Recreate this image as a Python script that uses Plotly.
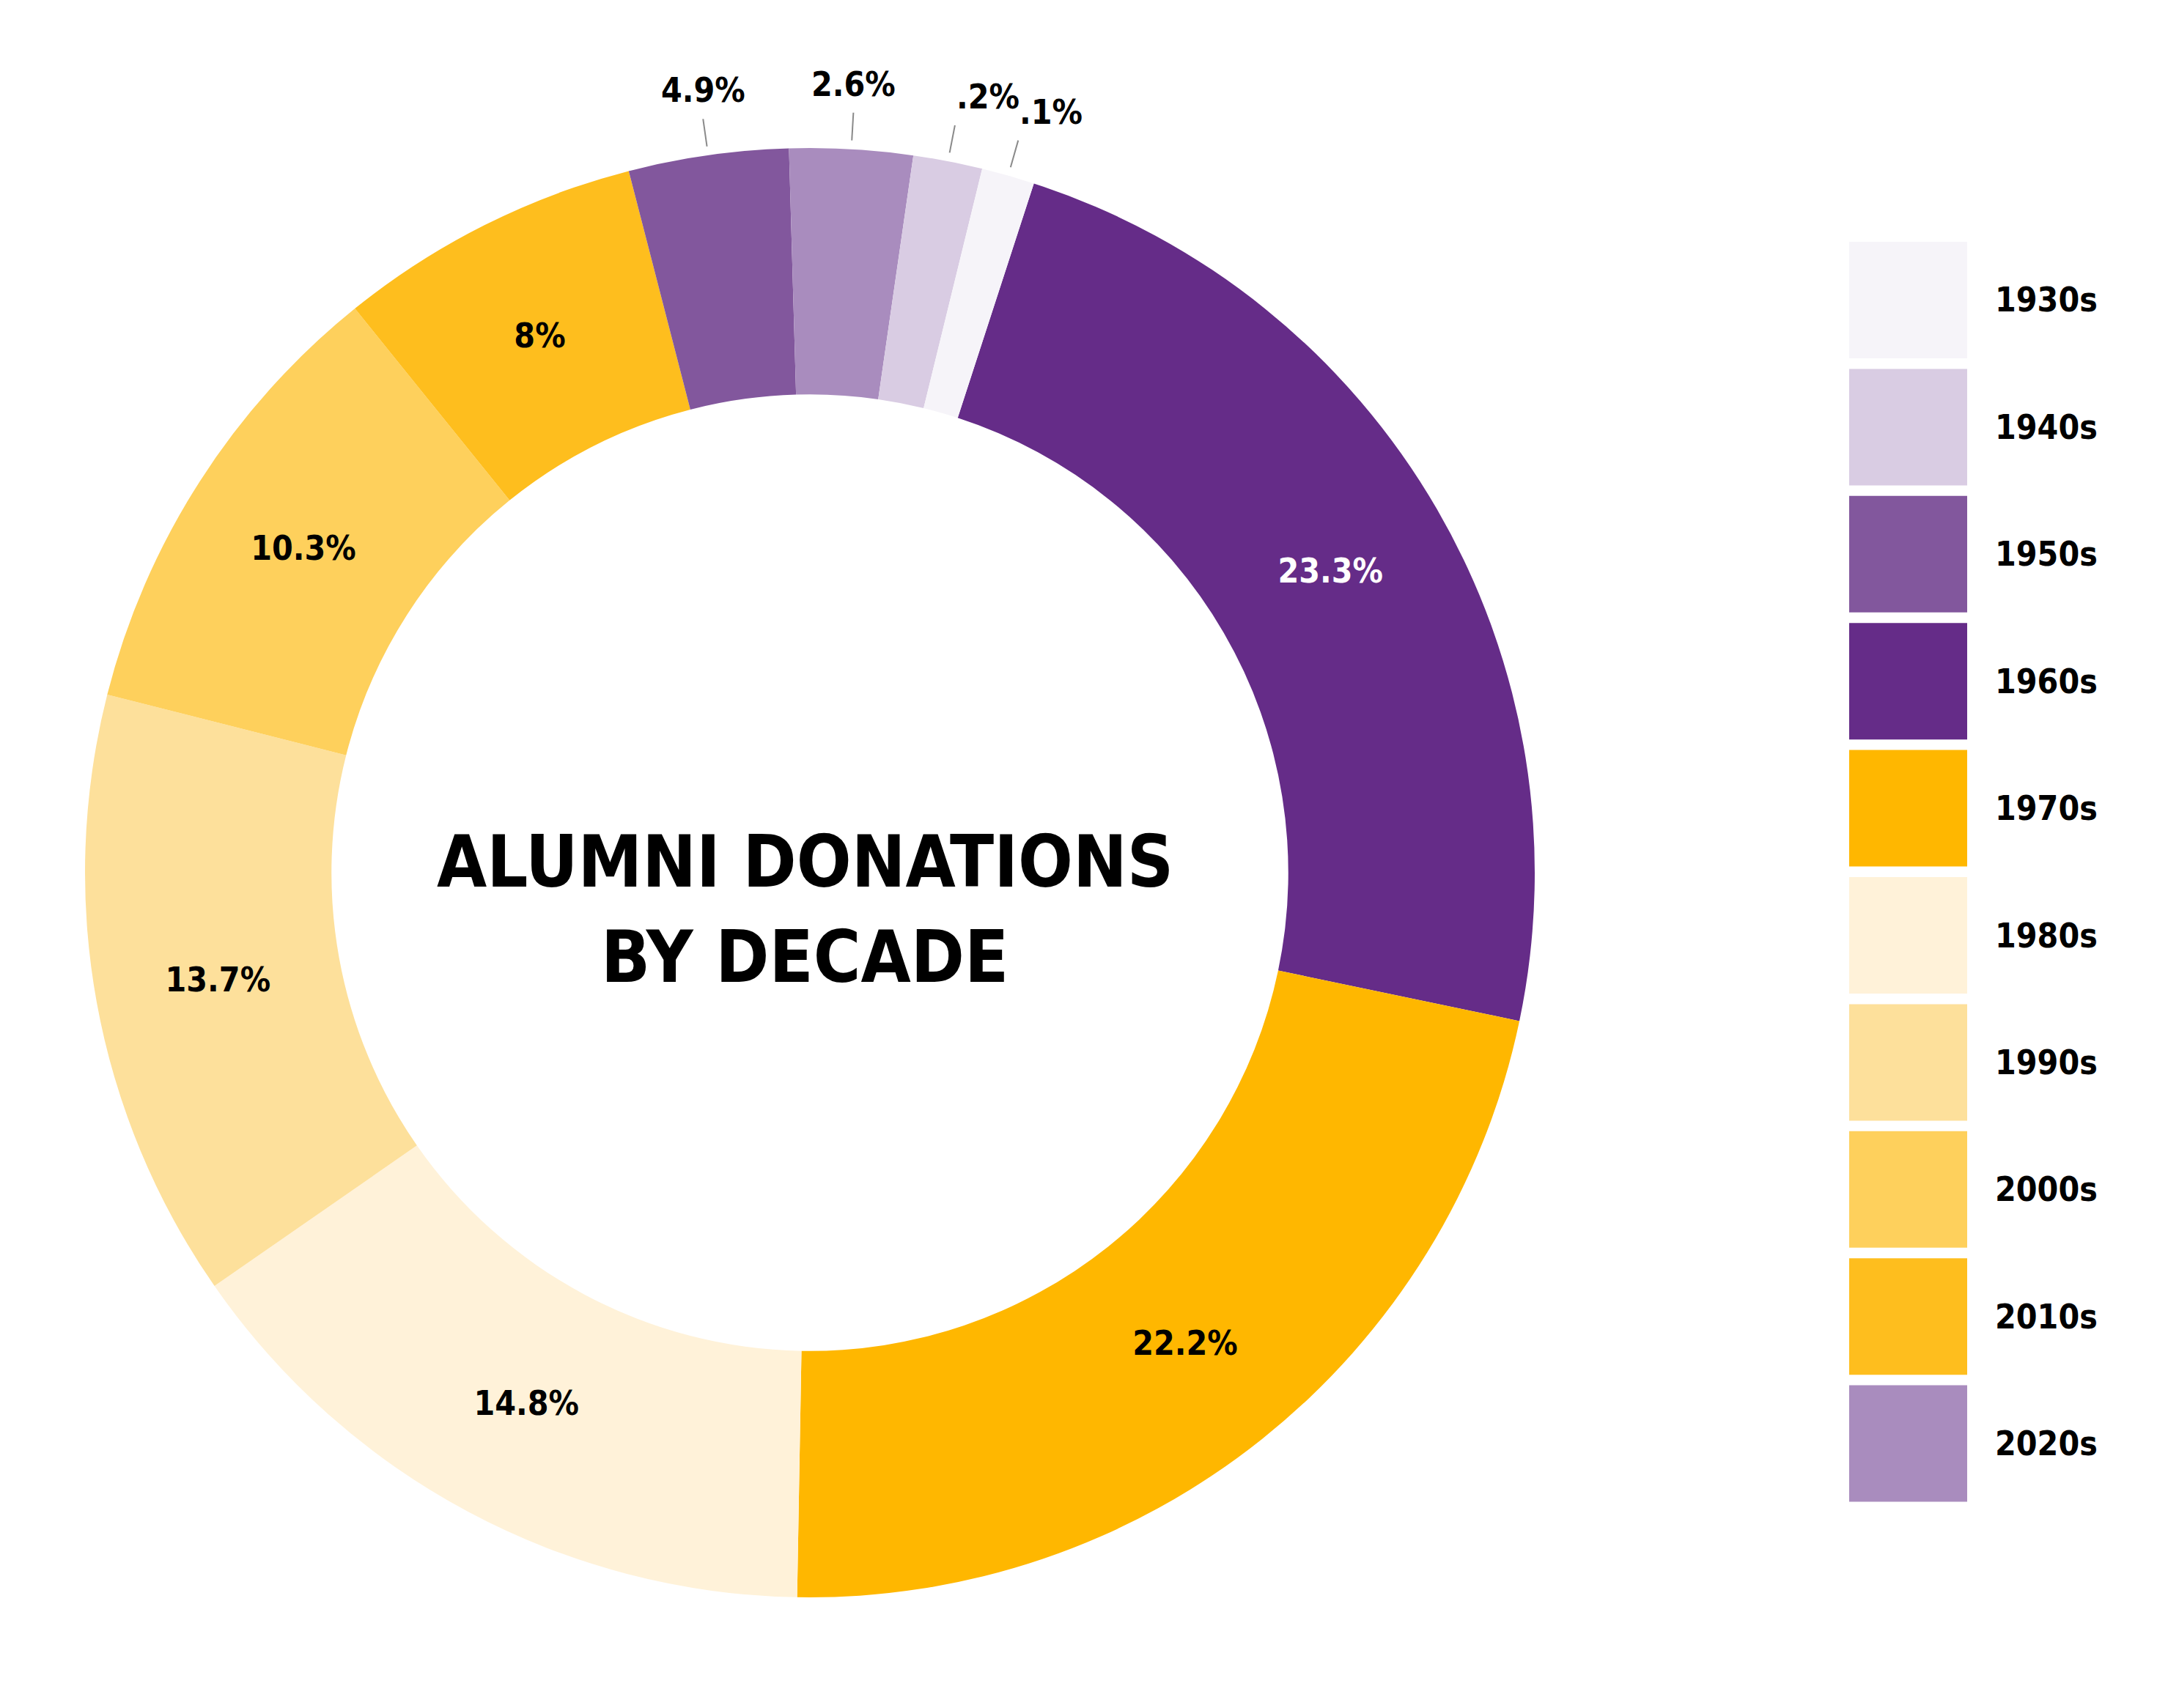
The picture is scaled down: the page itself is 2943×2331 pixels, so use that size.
import math
import plotly.graph_objects as go

# slices in clockwise order, starting from the 1960s wedge
decades = ['1960s', '1970s', '1980s', '1990s', '2000s', '2010s', '1950s', '2020s', '1940s', '1930s']
shares = [23.28, 22.0, 15.06, 13.61, 10.25, 6.78, 3.56, 2.74, 1.54, 1.18]
pct_labels = ['23.3%', '22.2%', '14.8%', '13.7%', '10.3%', '8%', '4.9%', '2.6%', '.2%', '.1%']

legend_decades = ['1930s', '1940s', '1950s', '1960s', '1970s',
                  '1980s', '1990s', '2000s', '2010s', '2020s']

colors = {
    '1930s': '#F6F4F9',
    '1940s': '#D9CCE3',
    '1950s': '#82579D',
    '1960s': '#652C88',
    '1970s': '#FFB700',
    '1980s': '#FFF2D9',
    '1990s': '#FDE09B',
    '2000s': '#FED05C',
    '2010s': '#FEBE1E',
    '2020s': '#A98CBE',
}

W, H = 2943, 2331
CX, CY, R = 1097, 1183, 989     # donut centre / radius in px
ROTATION = 18.0
FONT = 'DejaVu Sans Condensed, DejaVu Sans, sans-serif'

small = [s < 5 for s in shares]  # these get labels outside the ring

def px_to_paper(x, y):
    return x / W, 1 - y / H

fig = go.Figure()
fig.add_trace(go.Pie(
    labels=decades,
    values=shares,
    text=pct_labels,
    textinfo='text',
    textposition=['none' if s else 'inside' for s in small],
    insidetextorientation='horizontal',
    insidetextfont=dict(family=FONT, size=46, weight='bold',
                        color=['white' if d == '1960s' else 'black' for d in decades]),
    marker=dict(colors=[colors[d] for d in decades], line=dict(width=0)),
    hole=0.66,
    sort=False,
    direction='clockwise',
    rotation=ROTATION,
    showlegend=False,
    hoverinfo='label+text',
    domain=dict(x=[(CX - R) / W, (CX + R) / W], y=[1 - (CY + R) / H, 1 - (CY - R) / H]),
))

shapes = []
annotations = []

# outside labels with leader lines for the thin slices
start = ROTATION
total = sum(shares)
for share, lab, is_small in zip(shares, pct_labels, small):
    mid = start + share / total * 360 / 2
    start += share / total * 360
    if not is_small:
        continue
    a = math.radians(mid)
    x0, y0 = CX + 1001 * math.sin(a), CY - 1001 * math.cos(a)
    x1, y1 = CX + 1039 * math.sin(a), CY - 1039 * math.cos(a)
    p0 = px_to_paper(x0, y0)
    p1 = px_to_paper(x1, y1)
    shapes.append(dict(type='line', xref='paper', yref='paper',
                       x0=p0[0], y0=p0[1], x1=p1[0], y1=p1[1],
                       line=dict(color='#8a8a8a', width=2)))
    anchor = 'left' if math.sin(a) > 0.15 else 'center'
    annotations.append(dict(x=p1[0], y=p1[1], xref='paper', yref='paper',
                            text=lab, showarrow=False, xanchor=anchor, yanchor='bottom',
                            yshift=10,
                            font=dict(family=FONT, size=46, weight='bold', color='black')))

# centre title
for line, ty in [('ALUMNI DONATIONS', 1168), ('BY DECADE', 1298)]:
    tx, typ = px_to_paper(CX - 7, ty)
    annotations.append(dict(x=tx, y=typ, xref='paper', yref='paper', text=line,
                            showarrow=False, xanchor='center', yanchor='middle',
                            font=dict(family=FONT, size=98, weight='bold', color='black')))

# legend drawn as swatches + labels
SW_X0, SW_X1 = 2515, 2676
SW_TOP, SW_H, SW_STEP = 322, 159, 173.4
for i, d in enumerate(legend_decades):
    top = SW_TOP + i * SW_STEP
    bx0, by0 = px_to_paper(SW_X0, top)
    bx1, by1 = px_to_paper(SW_X1, top + SW_H)
    shapes.append(dict(type='rect', xref='paper', yref='paper',
                       x0=bx0, y0=by1, x1=bx1, y1=by0,
                       fillcolor=colors[d], line=dict(width=0)))
    lx, ly = px_to_paper(2712, top + SW_H / 2)
    annotations.append(dict(x=lx, y=ly, xref='paper', yref='paper', text=d,
                            showarrow=False, xanchor='left', yanchor='middle',
                            font=dict(family=FONT, size=46, weight='bold', color='black')))

fig.update_layout(
    width=W, height=H,
    margin=dict(l=0, r=0, t=0, b=0),
    paper_bgcolor='white',
    plot_bgcolor='white',
    shapes=shapes,
    annotations=annotations,
)

fig.write_html("out.html")
